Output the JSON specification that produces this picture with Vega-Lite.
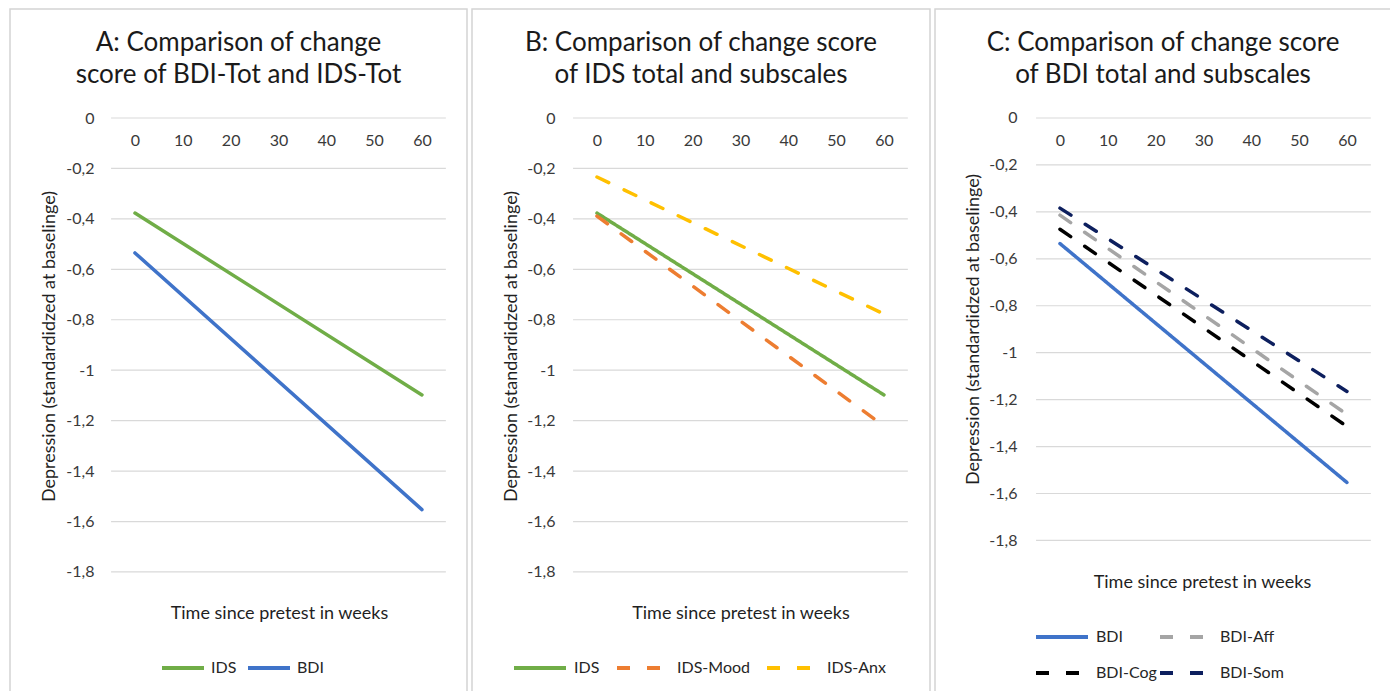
{
"$schema": "https://vega.github.io/schema/vega-lite/v6.json",
"padding": {"left": 9, "top": 8, "right": 0, "bottom": -10},
"background": "white",
"spacing": 3,
"config": {
  "font": "Lato",
  "view": {"stroke": "#D4D4D4", "strokeWidth": 1.5},
  "axis": {"domain": false, "ticks": false, "grid": false, "labelFontSize": 16, "labelColor": "#3a3a3a", "labelFlush": false, "labelOverlap": false, "labelBound": false, "titleFontSize": 18, "titleFontWeight": "normal", "titleColor": "#1f1f1f"},
  "legend": {"labelFontSize": 16, "labelColor": "#262626"},
  "title": {"fontSize": 26, "fontWeight": "normal", "color": "#1a1a1a", "anchor": "middle", "frame": "group", "offset": -79, "baseline": "alphabetic", "lineHeight": 32}
},
"datasets": {
  "grid": [{"g": 0}, {"g": -0.2}, {"g": -0.4}, {"g": -0.6}, {"g": -0.8}, {"g": -1}, {"g": -1.2}, {"g": -1.4}, {"g": -1.6}, {"g": -1.8}],
  "lines": [
    {"panel": "A", "series": "IDS", "week": 0, "value": -0.377},
    {"panel": "A", "series": "IDS", "week": 60, "value": -1.098},
    {"panel": "A", "series": "BDI", "week": 0, "value": -0.535},
    {"panel": "A", "series": "BDI", "week": 60, "value": -1.553},
    {"panel": "B", "series": "IDS", "week": 0, "value": -0.377},
    {"panel": "B", "series": "IDS", "week": 60, "value": -1.098},
    {"panel": "B", "series": "IDS-Mood", "week": 0, "value": -0.389},
    {"panel": "B", "series": "IDS-Mood", "week": 60, "value": -1.221},
    {"panel": "B", "series": "IDS-Anx", "week": 0, "value": -0.234},
    {"panel": "B", "series": "IDS-Anx", "week": 60, "value": -0.777},
    {"panel": "C", "series": "BDI", "week": 0, "value": -0.535},
    {"panel": "C", "series": "BDI", "week": 60, "value": -1.553},
    {"panel": "C", "series": "BDI-Aff", "week": 0, "value": -0.414},
    {"panel": "C", "series": "BDI-Aff", "week": 60, "value": -1.263},
    {"panel": "C", "series": "BDI-Cog", "week": 0, "value": -0.474},
    {"panel": "C", "series": "BDI-Cog", "week": 60, "value": -1.314},
    {"panel": "C", "series": "BDI-Som", "week": 0, "value": -0.384},
    {"panel": "C", "series": "BDI-Som", "week": 60, "value": -1.165}
  ]
},
"hconcat": [
  {
    "width": 457, "height": 692,
    "title": {"text": ["A: Comparison of change", "score of BDI-Tot and IDS-Tot"]},
    "layer": [
      {"data": {"name": "grid"}, "mark": {"type": "rule", "color": "#D9D9D9", "strokeWidth": 1.2},
       "encoding": {
         "y": {"field": "g", "type": "quantitative", "scale": {"domain": [-2.3116, 0.4322], "nice": false, "zero": false},
           "axis": {"orient": "left", "values": [0, -0.2, -0.4, -0.6, -0.8, -1, -1.2, -1.4, -1.6, -1.8], "offset": -88, "labelPadding": 4, "labelExpr": "replace(toString(datum.value), '.', ',')", "title": "Depression (standardidzed at baselinge)", "titleX": -49, "titleY": 337, "titleAngle": -90, "titleBaseline": "middle", "titleAlign": "center"}},
         "x": {"datum": -5, "type": "quantitative", "scale": {"domain": [-26.13, 69.42], "nice": false, "zero": false},
           "axis": {"orient": "top", "values": [0, 10, 20, 30, 40, 50, 60], "offset": -141, "labelPadding": 2, "title": "Time since pretest in weeks", "titleX": 269, "titleY": 468, "titleBaseline": "alphabetic", "titleAlign": "center"}},
         "x2": {"datum": 65}
       }},
      {"data": {"name": "lines"}, "transform": [{"filter": "datum.panel === 'A'"}],
       "mark": {"type": "line", "strokeWidth": 3.5, "strokeCap": "round"},
       "encoding": {
         "x": {"field": "week", "type": "quantitative"},
         "y": {"field": "value", "type": "quantitative"},
         "color": {"field": "series", "type": "nominal", "scale": {"domain": ["IDS", "BDI"], "range": ["#70AD47", "#3F73C9"]},
           "legend": {"title": null, "orient": "none", "legendX": 150, "legendY": 636, "direction": "horizontal", "symbolType": "stroke", "symbolSize": 1764, "symbolStrokeWidth": 4, "labelOffset": 5, "columnPadding": 3}}
       }}
    ]
  },
  {
    "width": 458, "height": 692,
    "title": {"text": ["B: Comparison of change score", "of IDS total and subscales"]},
    "layer": [
      {"data": {"name": "grid"}, "mark": {"type": "rule", "color": "#D9D9D9", "strokeWidth": 1.2},
       "encoding": {
         "y": {"field": "g", "type": "quantitative", "scale": {"domain": [-2.3116, 0.4322], "nice": false, "zero": false},
           "axis": {"orient": "left", "values": [0, -0.2, -0.4, -0.6, -0.8, -1, -1.2, -1.4, -1.6, -1.8], "offset": -87, "labelPadding": 4, "labelExpr": "replace(toString(datum.value), '.', ',')", "title": "Depression (standardidzed at baselinge)", "titleX": -48, "titleY": 337, "titleAngle": -90, "titleBaseline": "middle", "titleAlign": "center"}},
         "x": {"datum": -5, "type": "quantitative", "scale": {"domain": [-26.13, 69.63], "nice": false, "zero": false},
           "axis": {"orient": "top", "values": [0, 10, 20, 30, 40, 50, 60], "offset": -141, "labelPadding": 2, "title": "Time since pretest in weeks", "titleX": 268.5, "titleY": 468, "titleBaseline": "alphabetic", "titleAlign": "center"}},
         "x2": {"datum": 65}
       }},
      {"data": {"name": "lines"}, "transform": [{"filter": "datum.panel === 'B'"}],
       "mark": {"type": "line", "strokeWidth": 3.5, "strokeCap": "round"},
       "encoding": {
         "x": {"field": "week", "type": "quantitative"},
         "y": {"field": "value", "type": "quantitative"},
         "color": {"field": "series", "type": "nominal", "scale": {"domain": ["IDS", "IDS-Mood", "IDS-Anx"], "range": ["#70AD47", "#ED7D31", "#FFC000"]},
           "legend": {"title": null, "orient": "none", "legendX": 40, "legendY": 631, "direction": "horizontal", "symbolType": "stroke", "symbolSize": 2704, "symbolStrokeWidth": 4, "labelOffset": 6, "columnPadding": 9}},
         "strokeDash": {"field": "series", "type": "nominal", "scale": {"domain": ["IDS", "IDS-Mood", "IDS-Anx"], "range": [[1, 0], [13, 17], [13, 17]]},
           "legend": {"title": null, "orient": "none", "legendX": 40, "legendY": 631, "direction": "horizontal", "symbolType": "stroke", "symbolSize": 2704, "symbolStrokeWidth": 4, "labelOffset": 6, "columnPadding": 9}}
       }}
    ]
  },
  {
    "width": 456, "height": 692,
    "title": {"text": ["C: Comparison of change score", "of BDI total and subscales"]},
    "layer": [
      {"data": {"name": "grid"}, "mark": {"type": "rule", "color": "#D9D9D9", "strokeWidth": 1.2},
       "encoding": {
         "y": {"field": "g", "type": "quantitative", "scale": {"domain": [-2.4841, 0.4644], "nice": false, "zero": false},
           "axis": {"orient": "left", "values": [0, -0.2, -0.4, -0.6, -0.8, -1, -1.2, -1.4, -1.6, -1.8], "offset": -86, "labelPadding": 4, "labelExpr": "replace(toString(datum.value), '.', ',')", "title": "Depression (standardidzed at baselinge)", "titleX": -48, "titleY": 320, "titleAngle": -90, "titleBaseline": "middle", "titleAlign": "center"}},
         "x": {"datum": -5, "type": "quantitative", "scale": {"domain": [-26.13, 69.21], "nice": false, "zero": false},
           "axis": {"orient": "top", "values": [0, 10, 20, 30, 40, 50, 60], "offset": -141, "labelPadding": 2, "title": "Time since pretest in weeks", "titleX": 267, "titleY": 437, "titleBaseline": "alphabetic", "titleAlign": "center"}},
         "x2": {"datum": 65}
       }},
      {"data": {"name": "lines"}, "transform": [{"filter": "datum.panel === 'C'"}],
       "mark": {"type": "line", "strokeWidth": 3.5, "strokeCap": "round"},
       "encoding": {
         "x": {"field": "week", "type": "quantitative"},
         "y": {"field": "value", "type": "quantitative"},
         "color": {"field": "series", "type": "nominal", "scale": {"domain": ["BDI", "BDI-Aff", "BDI-Cog", "BDI-Som"], "range": ["#3F73C9", "#A5A5A5", "#000000", "#0D1F5E"]},
           "legend": {"title": null, "orient": "none", "legendX": 99, "legendY": 600, "direction": "horizontal", "columns": 2, "symbolType": "stroke", "symbolSize": 2704, "symbolStrokeWidth": 4, "labelOffset": 6, "columnPadding": -5, "rowPadding": -21}},
         "strokeDash": {"field": "series", "type": "nominal", "scale": {"domain": ["BDI", "BDI-Aff", "BDI-Cog", "BDI-Som"], "range": [[1, 0], [13, 17], [13, 17], [13, 17]]},
           "legend": {"title": null, "orient": "none", "legendX": 99, "legendY": 600, "direction": "horizontal", "columns": 2, "symbolType": "stroke", "symbolSize": 2704, "symbolStrokeWidth": 4, "labelOffset": 6, "columnPadding": -5, "rowPadding": -21}}
       }}
    ]
  }
],
"resolve": {
  "scale": {"x": "independent", "y": "independent", "color": "independent", "strokeDash": "independent"},
  "axis": {"x": "independent", "y": "independent"},
  "legend": {"color": "independent", "strokeDash": "independent"}
}
}
